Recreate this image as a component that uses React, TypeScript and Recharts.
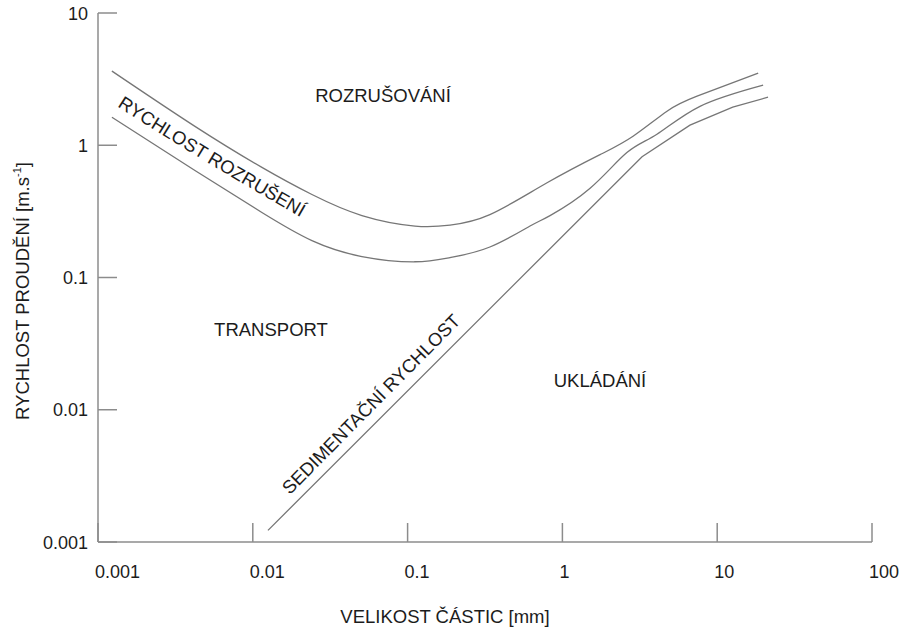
import { LineChart, Line, XAxis, YAxis } from "recharts"

// particle size [mm] on x, flow velocity [m/s] on y (both log)
const xTicks = [0.001, 0.01, 0.1, 1, 10, 100]
const xTickLabels = ["0.001", "0.01", "0.1", "1", "10", "100"]
const yTicks = [0.001, 0.01, 0.1, 1, 10]
const yTickLabels = ["0.001", "0.01", "0.1", "1", "10"]

// upper edge of the erosion band
const erosionTopSize = [0.00123, 0.00423, 0.01145, 0.0241, 0.0507, 0.1116, 0.188, 0.34, 0.796, 1.75, 2.86, 4.74, 7.41, 18.4]
const erosionTopVel = [3.64, 1.39, 0.68, 0.424, 0.294, 0.245, 0.249, 0.299, 0.52, 0.849, 1.17, 1.81, 2.35, 3.51]

// lower edge of the erosion band
const erosionLowSize = [0.00123, 0.00423, 0.01145, 0.0241, 0.0507, 0.1116, 0.188, 0.34, 0.618, 0.832, 1.51, 2.61, 4.08, 7.74, 19.8]
const erosionLowVel = [1.63, 0.645, 0.31, 0.19, 0.144, 0.1315, 0.1415, 0.17, 0.245, 0.294, 0.473, 0.88, 1.21, 1.97, 2.85]

// settling velocity
const settlingSize = [0.01253, 3.27, 6.67, 12.6, 21.3]
const settlingVel = [0.001225, 0.818, 1.42, 1.94, 2.31]

const FONT = "'Liberation Sans', Arial, Helvetica, sans-serif"
const AXIS = "#8c8c8c"
const CURVE = "#767676"
const INK = "#1c1c1c"

const toPoints = (sizes: number[], vels: number[]) =>
  sizes.map((d, i) => ({ d, v: vels[i] }))

function XTick(props: any) {
  const { x, y, index } = props
  return (
    <g>
      <line x1={x} y1={y} x2={x} y2={y - 19} stroke={AXIS} strokeWidth={1.5} />
      <text x={x - 3} y={y + 36} textAnchor="start" fontSize={18} fill={INK} fontFamily={FONT}>
        {xTickLabels[index]}
      </text>
    </g>
  )
}

function YTick(props: any) {
  const { x, y, index } = props
  return (
    <g>
      <line x1={x} y1={y} x2={x + 19} y2={y} stroke={AXIS} strokeWidth={1.5} />
      <text x={x - 10} y={y + 6.5} textAnchor="end" fontSize={18} fill={INK} fontFamily={FONT}>
        {yTickLabels[index]}
      </text>
    </g>
  )
}

export default function App() {
  return (
    <div style={{ position: "absolute", left: 0, top: 0, width: 900, height: 630, background: "#fff" }}>
      <LineChart width={900} height={630} margin={{ top: 13, right: 28, left: 0, bottom: 0 }}>
        <XAxis
          dataKey="d"
          type="number"
          scale="log"
          domain={[0.001, 100]}
          ticks={xTicks}
          interval={0}
          allowDataOverflow
          height={88}
          tickSize={0}
          tickMargin={0}
          tickLine={false}
          axisLine={{ stroke: AXIS, strokeWidth: 1.5 }}
          tick={(p: any) => <XTick {...p} />}
        />
        <YAxis
          dataKey="v"
          type="number"
          scale="log"
          domain={[0.001, 10]}
          ticks={yTicks}
          interval={0}
          allowDataOverflow
          width={98}
          tickSize={0}
          tickMargin={0}
          tickLine={false}
          axisLine={{ stroke: AXIS, strokeWidth: 1.5 }}
          tick={(p: any) => <YTick {...p} />}
        />
        <Line data={toPoints(erosionTopSize, erosionTopVel)} dataKey="v" type="natural" stroke={CURVE} strokeWidth={1.3} dot={false} isAnimationActive={false} />
        <Line data={toPoints(erosionLowSize, erosionLowVel)} dataKey="v" type="natural" stroke={CURVE} strokeWidth={1.3} dot={false} isAnimationActive={false} />
        <Line data={toPoints(settlingSize, settlingVel)} dataKey="v" type="linear" stroke={CURVE} strokeWidth={1.3} dot={false} isAnimationActive={false} />
      </LineChart>
      <svg width={900} height={630} style={{ position: "absolute", left: 0, top: 0, pointerEvents: "none" }}>
        <defs>
          <path id="erosionPath" d="M 108 92 Q 200 152 318 219" />
        </defs>
        <g fontFamily={FONT} fill={INK} fontSize={18.5}>
          <text x={383} y={101.5} textAnchor="middle">ROZRUŠOVÁNÍ</text>
          <text x={271} y={335.5} textAnchor="middle">TRANSPORT</text>
          <text x={600} y={386.5} textAnchor="middle">UKLÁDÁNÍ</text>
          <text dominantBaseline="central">
            <textPath href="#erosionPath" startOffset="50%" textAnchor="middle">RYCHLOST ROZRUŠENÍ</textPath>
          </text>
          <text transform="translate(371,404) rotate(-45.3)" textAnchor="middle" dominantBaseline="central">
            SEDIMENTAČNÍ RYCHLOST
          </text>
          <text x={445} y={623} textAnchor="middle">VELIKOST ČÁSTIC [mm]</text>
          <text transform="translate(29,291) rotate(-90)" textAnchor="middle">
            RYCHLOST PROUDĚNÍ [m.s
            <tspan fontSize={11} dy={-8}>-1</tspan>
            <tspan dy={8}>]</tspan>
          </text>
        </g>
      </svg>
    </div>
  )
}
